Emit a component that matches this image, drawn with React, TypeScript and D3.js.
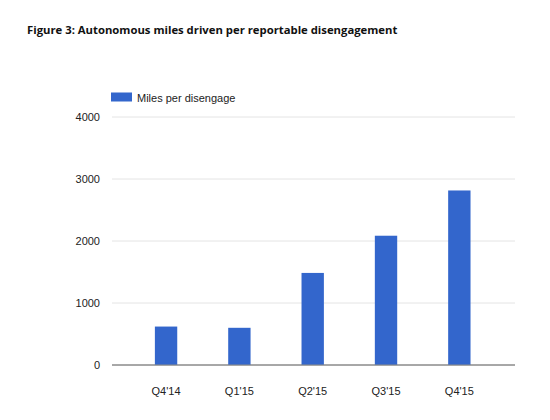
import React from 'react';
import * as d3 from 'd3';

// Data
const quarters = ["Q4'14", "Q1'15", "Q2'15", "Q3'15", "Q4'15"];
const milesPerDisengage = [620, 600, 1485, 2085, 2815];
const yTicks = [0, 1000, 2000, 3000, 4000];

const TITLE = 'Figure 3: Autonomous miles driven per reportable disengagement';
const SERIES = 'Miles per disengage';

const BAR = '#3366cc';

export default function App() {
  const W = 550;
  const H = 420;
  const plot = { left: 112, right: 515, top: 117, bottom: 365 };

  const yScale = d3
    .scaleLinear()
    .domain([0, 4000])
    .range([plot.bottom, plot.top]);

  const xScale = d3
    .scaleBand<string>()
    .domain(quarters)
    .range([129.4, 496])
    .paddingInner(0.695)
    .paddingOuter(0.3475);

  const axisFont = '"Liberation Sans", Arial, sans-serif';

  return (
    <svg
      width={W}
      height={H}
      viewBox={`0 0 ${W} ${H}`}
      style={{ position: 'fixed', left: 0, top: 0, background: '#fff' }}
    >
      <rect width={W} height={H} fill="#fff" />

      {/* Title */}
      <text
        x={27}
        y={34}
        fontFamily='"Open Sans", sans-serif'
        fontWeight={700}
        fontSize={11.3}
        fill="#111"
      >
        {TITLE}
      </text>

      {/* Legend */}
      <rect x={111} y={92.5} width={21} height={9} fill={BAR} />
      <text x={137} y={101.5} fontFamily={axisFont} fontSize={11} fill="#222">
        {SERIES}
      </text>

      {/* Grid lines and y labels */}
      {yTicks.map((t) => (
        <g key={t}>
          <line
            x1={plot.left}
            x2={plot.right}
            y1={yScale(t)}
            y2={yScale(t)}
            stroke={t === 0 ? '#8a8a8a' : '#e4e4e4'}
            strokeWidth={1}
          />
          <text
            x={100}
            y={yScale(t)}
            dy="0.35em"
            textAnchor="end"
            fontFamily={axisFont}
            fontSize={11}
            fill="#222"
          >
            {t}
          </text>
        </g>
      ))}

      {/* Bars */}
      {quarters.map((q, i) => (
        <rect
          key={q}
          x={xScale(q)!}
          width={xScale.bandwidth()}
          y={yScale(milesPerDisengage[i])}
          height={plot.bottom - yScale(milesPerDisengage[i])}
          fill={BAR}
        />
      ))}

      {/* Baseline on top of bars */}
      <line
        x1={plot.left}
        x2={plot.right}
        y1={yScale(0)}
        y2={yScale(0)}
        stroke="#8a8a8a"
        strokeWidth={1}
      />

      {/* X labels */}
      {quarters.map((q) => (
        <text
          key={q}
          x={xScale(q)! + xScale.bandwidth() / 2}
          y={391.5}
          dy="0.35em"
          textAnchor="middle"
          fontFamily={axisFont}
          fontSize={11}
          fill="#222"
        >
          {q}
        </text>
      ))}
    </svg>
  );
}
